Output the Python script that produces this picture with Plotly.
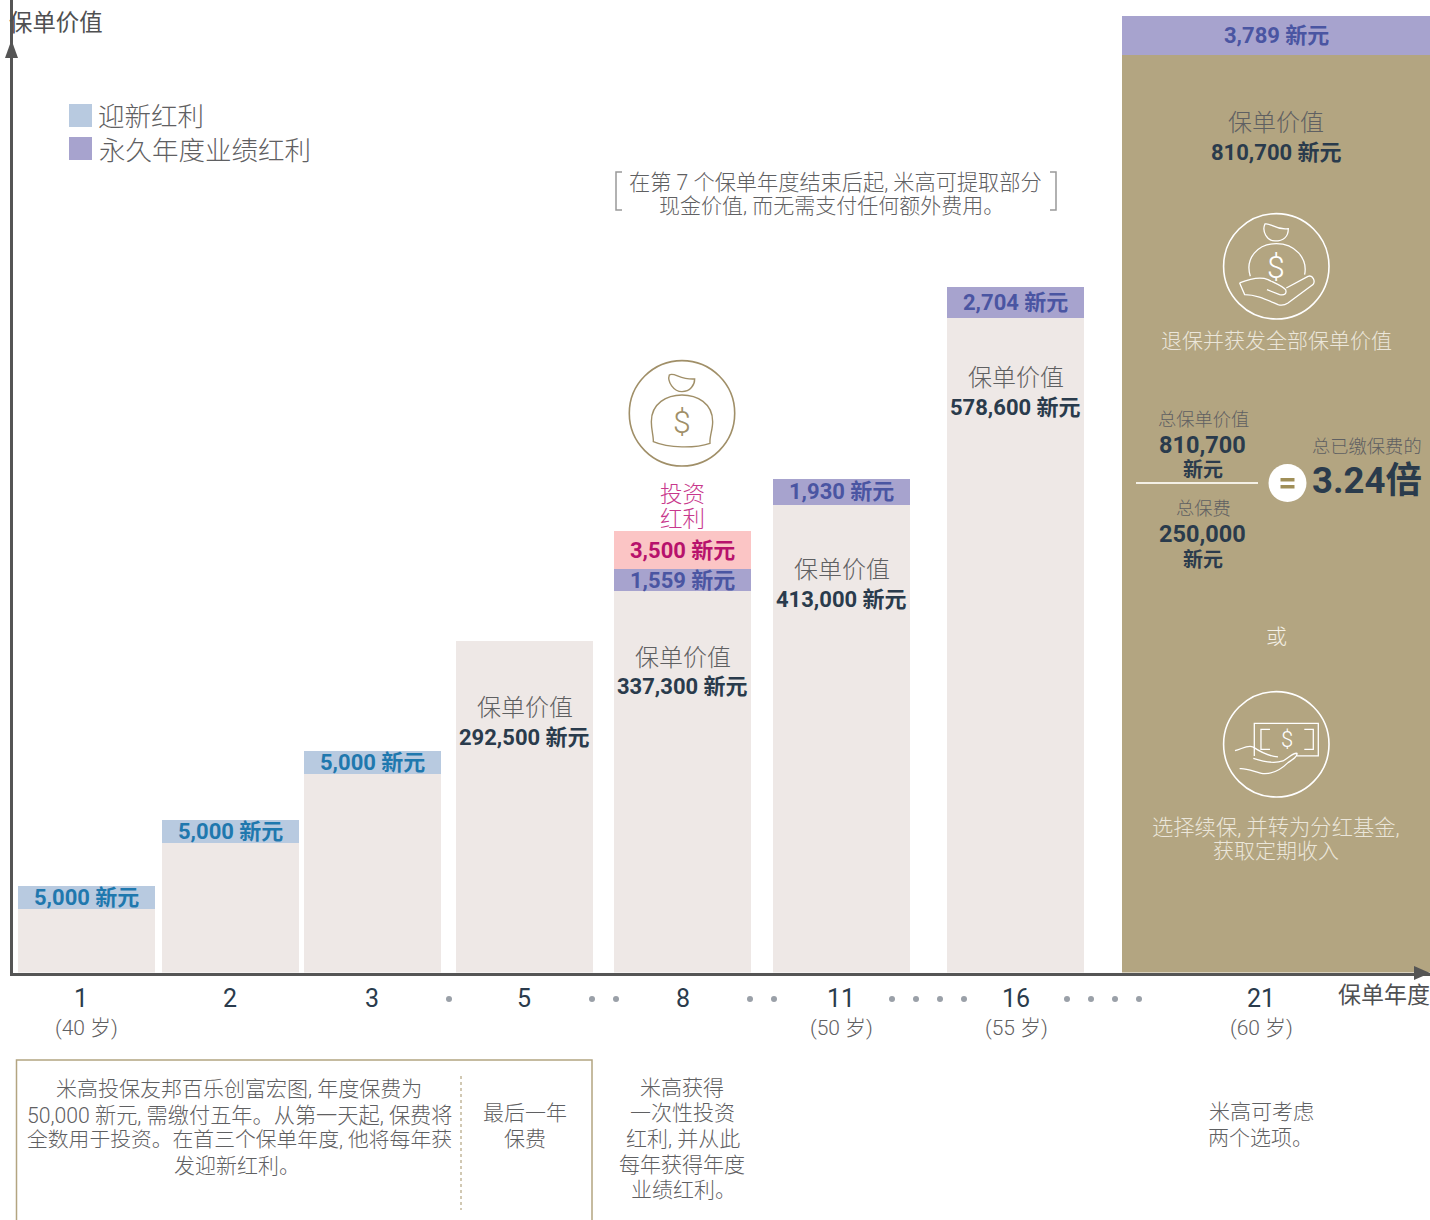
import plotly.graph_objects as go

W, H = 1430, 1220
AXIS_Y = 972.5          # pixel row where the plot area ends
AXIS_X = 13             # pixel column where the plot area starts
PX_PER_K = 1.132        # pixels per thousand of policy value

# ---------- data ----------
years = ["1", "2", "3", "5", "8", "11", "16", "21"]
ages = ["(40 岁)", "(50 岁)", "(55 岁)", "(60 岁)"]
age_years = ["1", "11", "16", "21"]
policy_value_k = [56, 114.5, 175.5, 292.5, 337.3, 413.0, 578.6, 810.7]
welcome_band_k = [20.3, 20.3, 20.3, 0, 0, 0, 0, 0]
loyalty_band_k = [0, 0, 0, 0, 18.8, 23.4, 27.4, 34.5]
investment_band_k = [0, 0, 0, 0, 33.6, 0, 0, 0]
welcome_labels = ["5,000 新元", "5,000 新元", "5,000 新元", "", "", "", "", ""]
loyalty_labels = ["", "", "", "", "1,559 新元", "1,930 新元", "2,704 新元", "3,789 新元"]
investment_labels = ["", "", "", "", "3,500 新元", "", "", ""]
value_labels = ["", "", "", "292,500 新元", "337,300 新元", "413,000 新元", "578,600 新元", "810,700 新元"]

# ---------- layout of categories ----------
bar_left = [18, 162, 304, 456, 614, 773, 947, 1122]
bar_right = [155, 299, 441, 593, 751, 910, 1084, 1430]
tick_pos = [81, 230, 372, 524, 683, 841, 1016, 1261]
dots = [449, 592, 616, 750, 774, 892, 916, 940, 964, 1067, 1091, 1115, 1139]

centres = [(a + b) / 2 for a, b in zip(bar_left, bar_right)]
widths = [b - a for a, b in zip(bar_left, bar_right)]

# ---------- styles ----------
FONT = "Roboto, 'Noto Sans CJK SC', sans-serif"
GREY = "#5f6062"
DARK = "#2a3b4c"
GOLD = "#b3a581"
ICON_GOLD = "#a08f68"
CREAM = "#ebe6da"
BAR = "#eee8e6"
WELCOME = "#b8cae0"
LOYALTY = "#a7a3ce"
INVEST = "#fbc5c5"
WELCOME_T = "#1f78ae"
LOYALTY_T = "#4a55a2"
INVEST_T = "#b7126c"

fx = lambda x: x / W
fy = lambda y: 1 - y / H

fig = go.Figure()
bar_colors = [BAR] * 7 + [GOLD]
fig.add_bar(name="保单价值", x=centres, y=policy_value_k, width=widths, marker=dict(color=bar_colors, line_width=0))
fig.add_bar(name="迎新红利", x=centres, y=welcome_band_k, width=widths, marker=dict(color=WELCOME, line_width=0))
fig.add_bar(name="永久年度业绩红利", x=centres, y=loyalty_band_k, width=widths, marker=dict(color=LOYALTY, line_width=0))
fig.add_bar(name="投资红利", x=centres, y=investment_band_k, width=widths, marker=dict(color=INVEST, line_width=0))

ann = []
shapes = []


def text(x, y, s, size, color=GREY, weight=300):
    if weight == 300:
        y += 0.8
    ann.append(dict(x=fx(x), y=fy(y), xref="paper", yref="paper", text=s, showarrow=False,
                    xanchor="center", yanchor="middle",
                    font=dict(family=FONT, size=size, color=color, weight=weight)))


def dtext(x, k, s, size, color, weight=700):
    # label placed through the chart's own axes
    ann.append(dict(x=x, y=k, xref="x", yref="y", text=s, showarrow=False,
                    xanchor="center", yanchor="middle",
                    font=dict(family=FONT, size=size, color=color, weight=weight)))


def path(d, line=None, width=1.5, fill=None, dash=None):
    toks = d.split()
    out = []
    for t in toks:
        if t.isalpha():
            out.append(t)
        else:
            a, b = t.split(",")
            out.append(f"{fx(float(a)):.5f},{fy(float(b)):.5f}")
    shapes.append(dict(type="path", xref="paper", yref="paper", path=" ".join(out),
                       line=dict(color=line or "rgba(0,0,0,0)", width=width if line else 0, dash=dash or "solid"),
                       fillcolor=fill or "rgba(0,0,0,0)", layer="above"))


def icon_path(cx, cy, d, **kw):
    # d is written in third-of-a-pixel units around the icon centre
    toks = []
    for t in d.split():
        if t.isalpha():
            toks.append(t)
        else:
            a, b = t.split(",")
            toks.append(f"{cx + float(a) / 3:.2f},{cy + float(b) / 3:.2f}")
    path(" ".join(toks), **kw)


def circle(cx, cy, r, line=None, fill=None, width=1.5):
    shapes.append(dict(type="circle", xref="paper", yref="paper",
                       x0=fx(cx - r), x1=fx(cx + r), y0=fy(cy + r), y1=fy(cy - r),
                       line=dict(color=line or "rgba(0,0,0,0)", width=width if line else 0),
                       fillcolor=fill or "rgba(0,0,0,0)", layer="above"))


def rect(x0, y0, x1, y1, fill):
    shapes.append(dict(type="rect", xref="paper", yref="paper", x0=fx(x0), x1=fx(x1), y0=fy(y1), y1=fy(y0),
                       line_width=0, fillcolor=fill, layer="above"))


# axis arrows and titles
path("M 11.5,40 L 18,58 L 5,58 Z", fill="#555555")
path("M 1430,973 L 1414,980 L 1414,966 Z", fill="#555555")
text(56.5, 23.2, "保单价值", 23.4, "#4f5052", 400)
text(1384, 995, "保单年度", 23, "#4f5052", 400)

# legend
rect(69, 104, 92, 127, WELCOME)
rect(69, 137, 92, 160, LOYALTY)
text(151, 116, "迎新红利", 26.5)
text(204.5, 150, "永久年度业绩红利", 26.5)

# note with brackets
text(835.5, 181.2, "在第 7 个保单年度结束后起, 米高可提取部分", 21.2)
text(831, 205.2, "现金价值, 而无需支付任何额外费用。", 21)
path("M 622,172 L 616,172 L 616,210 L 622,210", line="#999999", width=1.5)
path("M 1050,172 L 1056,172 L 1056,210 L 1050,210", line="#999999", width=1.5)

# labels on the bars, positioned from the stacked values
for i, c in enumerate(centres):
    base = policy_value_k[i]
    if welcome_labels[i]:
        dtext(c, base + welcome_band_k[i] / 2, welcome_labels[i], 22, WELCOME_T)
    if loyalty_labels[i]:
        dtext(c, base + welcome_band_k[i] + loyalty_band_k[i] / 2, loyalty_labels[i], 22, LOYALTY_T)
    if investment_labels[i]:
        dtext(c, base + loyalty_band_k[i] + investment_band_k[i] / 2, investment_labels[i], 22, INVEST_T)

value_rows = {3: (707, 737), 4: (657, 686), 5: (569, 599), 6: (377, 407), 7: (122, 152)}
for i, (y1, y2) in value_rows.items():
    text(centres[i], y1, "保单价值", 24)
    text(centres[i], y2, value_labels[i], 22, DARK, 700)

# investment bonus
text(682, 493, "投资", 22.5, "#c8388c")
text(682, 518, "红利", 22.5, "#c8388c")

# icon: money bag (gold, white background)
cx, cy = 682, 413.3
circle(cx, cy, 52.7, line=ICON_GOLD, width=1.6)
c_k = dict(line=ICON_GOLD, width=1.4)
icon_path(cx, cy, "M -38,-115 C -25,-125 -5,-100 38,-103 C 38,-85 25,-65 0,-65 C -25,-65 -45,-95 -38,-115 Z", **c_k)
icon_path(cx, cy, "M -86,85 C -85,70 -92,50 -92,25 C -92,-30 -45,-55 0,-55 C 45,-55 92,-30 92,25 C 92,50 82,70 84,90 C 40,105 -40,105 -86,85 Z", **c_k)
text(682, 421, "$", 32, ICON_GOLD, 300)

# icon: money bag in hand (white, gold panel)
cx, cy = 1276.3, 266.3
circle(cx, cy, 52.7, line="#ffffff", width=1.6)
c_w = dict(line="#ffffff", width=1.3)
icon_path(cx, cy, "M -34,-127 C -15,-131 -5,-108 36,-113 C 36,-90 22,-76 -4,-76 C -28,-76 -44,-105 -34,-127 Z", **c_w)
icon_path(cx, cy, "M -78,30 C -95,-25 -55,-68 0,-68 C 55,-68 95,-25 85,25", **c_w)
icon_path(cx, cy, "M -110,50 C -80,38 -50,30 -25,40 C -5,50 20,60 28,70 C 32,82 25,88 10,85 L -28,70", **c_w)
icon_path(cx, cy, "M -110,50 L -95,85 C -60,85 -30,100 5,115 C 15,118 25,117 35,110 L 110,55 C 118,45 110,25 95,30 L 30,65", **c_w)
text(1276.3, 266, "$", 32, "#ffffff", 300)

# icon: bank note in hand (white, gold panel)
cx, cy = 1276.3, 744.3
circle(cx, cy, 52.7, line="#ffffff", width=1.6)
icon_path(cx, cy, "M -66,35 L -66,-63 L 126,-63 L 126,35 L 62,35", **c_w)
icon_path(cx, cy, "M -19,-45 L -46,-45 L -46,15 L -19,15", **c_w)
icon_path(cx, cy, "M 84,-45 L 111,-45 L 111,15 L 84,15", **c_w)
icon_path(cx, cy, "M -124,19 C -105,15 -85,0 -70,8 C -55,18 -30,35 5,38", **c_w)
icon_path(cx, cy, "M -69,42 C -40,52 -5,58 20,50 C 35,42 50,25 62,27 C 65,35 50,45 35,55 C 15,75 -10,90 -40,88 C -60,85 -90,70 -110,73", **c_w)
text(1286.5, 739, "$", 22, "#ffffff", 300)

# gold panel texts
text(1276, 340.2, "退保并获发全部保单价值", 21, CREAM)
text(1203, 419, "总保单价值", 18.3)
text(1202.5, 445, "810,700", 23.5, DARK, 700)
text(1202.5, 470, "新元", 20, DARK, 700)
rect(1136, 482, 1258, 484, "#f4f0e6")
text(1203, 508, "总保费", 18.3)
text(1202.5, 534, "250,000", 23.5, DARK, 700)
text(1202.5, 560, "新元", 20, DARK, 700)
circle(1287.5, 483, 19, fill="#ffffff")
rect(1280.5, 478, 1294.5, 481.5, "#a08f58")
rect(1280.5, 485, 1294.5, 488.5, "#a08f58")
text(1367, 446, "总已缴保费的", 18.3)
text(1366.5, 480.5, "3.24倍", 36.5, DARK, 700)
text(1276, 636.2, "或", 21, "#f4f0e6")
text(1276, 826.2, "选择续保, 并转为分红基金,", 21.3, CREAM)
text(1276, 850.2, "获取定期收入", 21, CREAM)

# ages under the tick labels
for a, y in zip(ages, age_years):
    text(tick_pos[years.index(y)] + (5 if y == "1" else 0), 1027, a, 21)

# dots between non-consecutive years
for d in dots:
    circle(d, 999, 3, fill="#9aa0a8")

# bottom notes
path("M 16.5,1220 L 16.5,1060 L 592,1060 L 592,1220", line=GOLD, width=1.5)
path("M 461,1076 L 461,1210", line=GOLD, width=1.2, dash="dot")
for x, y, s, size in [
    (238.5, 1088.2, "米高投保友邦百乐创富宏图, 年度保费为", 21),
    (239, 1114.2, "50,000 新元, 需缴付五年。从第一天起, 保费将", 21.2),
    (239.5, 1139.2, "全数用于投资。在首三个保单年度, 他将每年获", 20.8),
    (236.5, 1165.2, "发迎新红利。", 21),
    (525, 1112.2, "最后一年", 21),
    (525, 1138.2, "保费", 21),
    (682, 1087.2, "米高获得", 21),
    (682, 1112.2, "一次性投资", 21),
    (682.5, 1138.2, "红利, 并从此", 21),
    (682, 1164.2, "每年获得年度", 21),
    (683, 1189.2, "业绩红利。", 21),
    (1261, 1111.2, "米高可考虑", 21),
    (1260, 1137.2, "两个选项。", 21),
]:
    text(x, y, s, size)

fig.update_layout(
    width=W, height=H, margin=dict(l=0, r=0, t=0, b=0), barmode="stack", showlegend=False,
    paper_bgcolor="#ffffff", plot_bgcolor="#ffffff", annotations=ann, shapes=shapes,
    font=dict(family=FONT),
    xaxis=dict(domain=[AXIS_X / W, 1], range=[AXIS_X, W], tickmode="array", tickvals=tick_pos, ticktext=years,
               showline=True, linecolor="#555555", linewidth=2.5, showgrid=False, zeroline=False, ticks="",
               tickfont=dict(family=FONT, size=25, color=DARK, weight=400), ticklabelstandoff=2, automargin=False),
    yaxis=dict(domain=[1 - AXIS_Y / H, 1], range=[0, AXIS_Y / PX_PER_K], showline=True, linecolor="#555555",
               linewidth=2.5, showgrid=False, zeroline=False, showticklabels=False, ticks="", automargin=False),
)
fig.write_html("out.html", config=dict(displayModeBar=False),
               post_script="document.body.style.margin='0';document.body.style.overflow='hidden';")
